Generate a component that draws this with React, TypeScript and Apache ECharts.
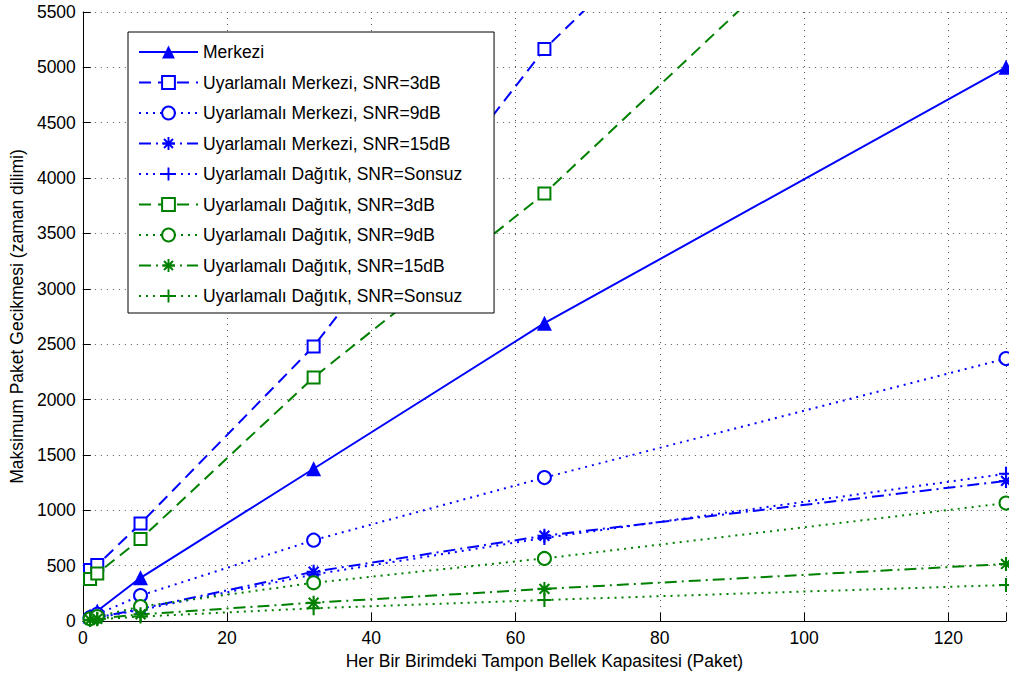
import React, { useEffect, useRef } from "react";
import * as echarts from "echarts";

const xValues = [1, 2, 8, 32, 64, 128];

const merkezi = [45, 90, 390, 1375, 2690, 5000];
const merkezi3dB = [460, 505, 880, 2480, 5165, 9200];
const merkezi9dB = [30, 60, 230, 730, 1295, 2370];
const merkezi15dB = [15, 30, 110, 445, 770, 1265];
const merkeziSonsuz = [15, 30, 100, 420, 750, 1330];
const dagitik3dB = [380, 430, 740, 2200, 3860, 7780];
const dagitik9dB = [20, 40, 130, 345, 565, 1065];
const dagitik15dB = [10, 20, 60, 165, 290, 515];
const dagitikSonsuz = [8, 15, 40, 115, 190, 325];

const seriesNames = [
  "Merkezi",
  "Uyarlamalı Merkezi, SNR=3dB",
  "Uyarlamalı Merkezi, SNR=9dB",
  "Uyarlamalı Merkezi, SNR=15dB",
  "Uyarlamalı Dağıtık, SNR=Sonsuz",
  "Uyarlamalı Dağıtık, SNR=3dB",
  "Uyarlamalı Dağıtık, SNR=9dB",
  "Uyarlamalı Dağıtık, SNR=15dB",
  "Uyarlamalı Dağıtık, SNR=Sonsuz ",
];

const yTicks = { min: 0, max: 5500, interval: 500 };
const xTicks = { min: 0, max: 128, interval: 20 };

const BLUE = "#0000ff";
const GREEN = "#008000";
const FONT = "'Liberation Sans', Arial, sans-serif";
const FS = 17.5;

const PLUS = "path://M8.5,0h3v20h-3z M0,8.5h20v3h-20z";
const STAR =
  "path://M8.5,0h3v20h-3z M0,8.5h20v3h-20z " +
  "M4.06,1.94L18.06,15.94L15.94,18.06L1.94,4.06z " +
  "M18.06,4.06L4.06,18.06L1.94,15.94L15.94,1.94z";

const DASHED = [12, 7];
const DOTTED = [2, 5];
const DASHDOT = [12, 5, 2, 5];

export default function App() {
  const ref = useRef<HTMLDivElement>(null);

  useEffect(() => {
    if (!ref.current) return;
    const chart = echarts.init(ref.current, null, { renderer: "svg" });

    const mk = (
      name: string,
      values: number[],
      color: string,
      dash: any,
      symbol: string,
      size: number,
      empty: boolean
    ) => ({
      name,
      type: "line",
      data: xValues.map((x, i) => [x, values[i]]),
      color,
      symbol,
      symbolSize: size,
      showAllSymbol: true,
      clip: true,
      lineStyle: { color, width: 2, type: dash },
      itemStyle: { color, borderColor: color, borderWidth: empty ? 2 : 0 },
      emphasis: { disabled: true },
    });

    const series = [
      mk(seriesNames[0], merkezi, BLUE, "solid", "triangle", 15, false),
      mk(seriesNames[1], merkezi3dB, BLUE, DASHED, "emptyRect", 12, true),
      mk(seriesNames[2], merkezi9dB, BLUE, DOTTED, "emptyCircle", 13, true),
      mk(seriesNames[3], merkezi15dB, BLUE, DASHDOT, STAR, 14, false),
      mk(seriesNames[4], merkeziSonsuz, BLUE, DOTTED, PLUS, 14, false),
      mk(seriesNames[5], dagitik3dB, GREEN, DASHED, "emptyRect", 12, true),
      mk(seriesNames[6], dagitik9dB, GREEN, DOTTED, "emptyCircle", 13, true),
      mk(seriesNames[7], dagitik15dB, GREEN, DASHDOT, STAR, 14, false),
      mk(seriesNames[8], dagitikSonsuz, GREEN, DOTTED, PLUS, 14, false),
    ];

    const gridLine = { show: true, lineStyle: { color: "#555", width: 1, type: [1, 5] as any } };

    chart.setOption({
      animation: false,
      backgroundColor: "#fff",
      textStyle: { fontFamily: FONT },
      grid: { left: 79, top: 12, right: 0, bottom: 58, containLabel: false },
      xAxis: {
        type: "value",
        min: xTicks.min,
        max: xTicks.max,
        interval: xTicks.interval,
        name: "Her Bir Birimdeki Tampon Bellek Kapasitesi (Paket)",
        nameLocation: "middle",
        nameGap: 30,
        nameTextStyle: { color: "#000", fontSize: FS, fontFamily: FONT },
        axisLine: { show: true, onZero: false, lineStyle: { color: "#000", width: 1 } },
        axisTick: { show: true, inside: true, length: 8, lineStyle: { color: "#000" } },
        axisLabel: {
          color: "#000",
          fontSize: FS,
          fontFamily: FONT,
          margin: 8,
          formatter: (v: number) => (v % xTicks.interval === 0 ? String(v) : ""),
        },
        splitLine: gridLine,
      },
      yAxis: {
        type: "value",
        min: yTicks.min,
        max: yTicks.max,
        interval: yTicks.interval,
        name: "Maksimum Paket Gecikmesi (zaman dilimi)",
        nameLocation: "middle",
        nameGap: 52,
        nameTextStyle: { color: "#000", fontSize: FS, fontFamily: FONT },
        axisLine: { show: true, lineStyle: { color: "#000", width: 1 } },
        axisTick: { show: true, inside: true, length: 8, lineStyle: { color: "#000" } },
        axisLabel: {
          color: "#000",
          fontSize: FS,
          fontFamily: FONT,
          margin: 7,
          formatter: (v: number) => String(v),
        },
        splitLine: gridLine,
      },
      legend: {
        show: true,
        orient: "vertical",
        left: 128,
        top: 32,
        padding: [11, 27, 8, 10],
        itemWidth: 59,
        itemHeight: 16,
        itemGap: 12.5,
        backgroundColor: "#fff",
        borderColor: "#000",
        borderWidth: 1,
        borderRadius: 0,
        selectedMode: false,
        textStyle: { color: "#000", fontSize: FS, fontFamily: FONT, lineHeight: 16 },
        data: seriesNames,
      },
      series,
    });

    return () => chart.dispose();
  }, []);

  return (
    <div
      ref={ref}
      style={{ position: "fixed", left: 0, top: 0, width: 1009, height: 679 }}
    />
  );
}
